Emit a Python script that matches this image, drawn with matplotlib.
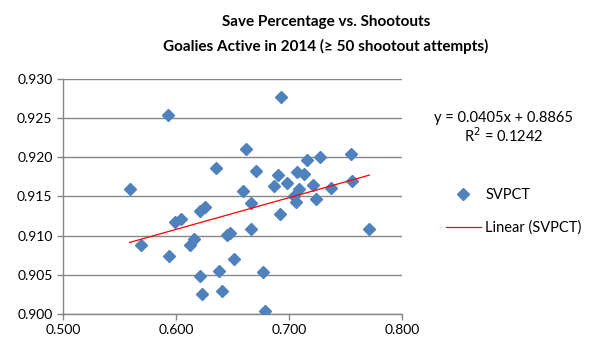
import numpy as np
import matplotlib
matplotlib.use("Agg")
import matplotlib.pyplot as plt

plt.rcParams['font.family'] = ['Lato', 'DejaVu Sans']

# Data
shootout_pct = [0.559, 0.569, 0.593, 0.594, 0.599, 0.604, 0.612, 0.616, 0.621, 0.626,
                0.621, 0.623, 0.635, 0.638, 0.641, 0.645, 0.648, 0.651, 0.659, 0.662,
                0.666, 0.666, 0.671, 0.677, 0.679, 0.687, 0.690, 0.692, 0.693, 0.698,
                0.704, 0.706, 0.707, 0.709, 0.713, 0.716, 0.721, 0.724, 0.727, 0.737,
                0.755, 0.756, 0.771]
svpct = [0.9159, 0.9088, 0.9254, 0.9074, 0.9118, 0.9121, 0.9088, 0.9096, 0.9131, 0.9136,
         0.9049, 0.9026, 0.9186, 0.9055, 0.9030, 0.9101, 0.9104, 0.9070, 0.9157, 0.9211,
         0.9142, 0.9109, 0.9183, 0.9054, 0.9004, 0.9164, 0.9177, 0.9128, 0.9277, 0.9167,
         0.9150, 0.9143, 0.9181, 0.9160, 0.9179, 0.9196, 0.9165, 0.9147, 0.9200, 0.9161,
         0.9204, 0.9170, 0.9109]
trend_slope = 0.0405
trend_intercept = 0.8865
r_squared = 0.1242
x_ticks = [0.500, 0.600, 0.700, 0.800]
y_ticks = [0.900, 0.905, 0.910, 0.915, 0.920, 0.925, 0.930]

fig = plt.figure(figsize=(5.9, 3.53), dpi=100)
ax = fig.add_axes([63/590, 1-314/353, (402-63)/590, (314-79)/353])

grid_c = '#868686'
ax.set_xlim(0.5, 0.8)
ax.set_ylim(0.900, 0.930)
ax.set_xticks(x_ticks)
ax.set_yticks(y_ticks)
ax.set_xticklabels([f"{v:.3f}" for v in x_ticks])
ax.set_yticklabels([f"{v:.3f}" for v in y_ticks])
ax.yaxis.grid(True, color=grid_c, linewidth=1)
ax.set_axisbelow(True)
for s in ['top', 'right']:
    ax.spines[s].set_visible(False)
for s in ['left', 'bottom']:
    ax.spines[s].set_color(grid_c)
    ax.spines[s].set_linewidth(1)
ax.tick_params(axis='both', colors=grid_c, labelcolor='black', labelsize=10,
               length=4, width=1, direction='out')

sc, = ax.plot(shootout_pct, svpct, linestyle='none', marker='D', markersize=6.5,
              color='#4F81BD', label='SVPCT', zorder=3)
xs = np.array([min(shootout_pct), max(shootout_pct)])
ln, = ax.plot(xs, trend_slope * xs + trend_intercept, color='#FF0000', linewidth=0.9,
              label='Linear (SVPCT)', zorder=4)

fig.text(326/590, 1-22/353, 'Save Percentage vs. Shootouts', ha='center', va='center',
         fontsize=11, fontweight='bold')
fig.text(326/590, 1-46/353, 'Goalies Active in 2014 (\u2265 50 shootout attempts)',
         ha='center', va='center', fontsize=11, fontweight='bold')

fig.text(504/590, 1-118/353, f'y = {trend_slope:.4f}x + {trend_intercept:.4f}',
         ha='center', va='center', fontsize=10.5)
fig.text(504/590, 1-136/353, f'R$^2$ = {r_squared:.4f}', ha='center', va='center',
         fontsize=10.5)

leg = fig.legend(handles=[sc, ln], loc='upper left', bbox_to_anchor=(440/590, 1-182/353),
                 frameon=False, fontsize=10.5, handlelength=2.4, labelspacing=1.3,
                 handletextpad=0.3, borderaxespad=0)

fig.savefig('out.png', dpi=100)
